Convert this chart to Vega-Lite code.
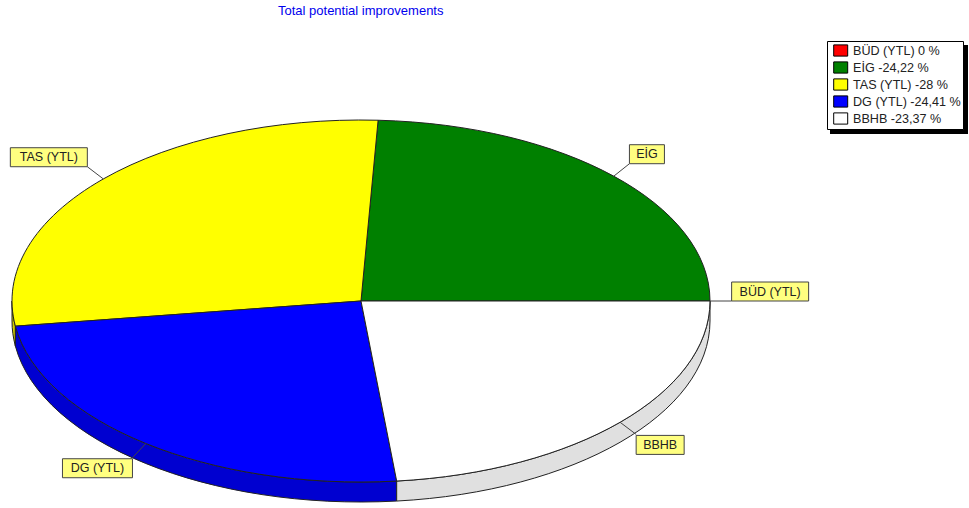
{
  "$schema": "https://vega.github.io/schema/vega-lite/v6.json",
  "width": 969,
  "height": 508,
  "padding": 0,
  "autosize": "none",
  "background": "white",
  "title": {"text": "Total potential improvements", "anchor": "start", "frame": "group", "dx": 278, "offset": -18, "font": "Liberation Sans", "fontSize": 13, "fontWeight": "normal", "color": "#0000EE"},
  "config": {"view": {"stroke": null}, "axis": {"disable": true}},
  "params": [
    {"name": "cx", "value": 361},
    {"name": "cy", "value": 301},
    {"name": "rx", "value": 349},
    {"name": "ry", "value": 181},
    {"name": "depth", "value": 20}
  ],
  "data": {"values": [
    {"slice": "BÜD (YTL)", "change": 0},
    {"slice": "EİG", "change": -24.22},
    {"slice": "TAS (YTL)", "change": -28},
    {"slice": "DG (YTL)", "change": -24.41},
    {"slice": "BBHB", "change": -23.37}
  ]},
  "transform": [
    {"calculate": "abs(datum.change)", "as": "pct"},
    {"stack": "pct", "groupby": [], "as": ["a0", "a1"]},
    {"calculate": "datum.a0*3.6*PI/180", "as": "s0"},
    {"calculate": "datum.a1*3.6*PI/180", "as": "s1"},
    {"calculate": "(datum.s0+datum.s1)/2", "as": "mid"},
    {"calculate": "round(rx*cos(datum.s0)*100)/100+','+round(-ry*sin(datum.s0)*100)/100", "as": "p0"},
    {"calculate": "round(rx*cos(datum.s1)*100)/100+','+round(-ry*sin(datum.s1)*100)/100", "as": "p1"},
    {"calculate": "'M0,0L'+datum.p0+'A'+rx+','+ry+' 0 0 0 '+datum.p1+'Z'", "as": "topPath"},
    {"calculate": "max(datum.s0,PI)", "as": "r0"},
    {"calculate": "min(datum.s1,2*PI)", "as": "r1"},
    {"calculate": "round(rx*cos(datum.r0)*100)/100", "as": "rx0"},
    {"calculate": "round(-ry*sin(datum.r0)*100)/100", "as": "ry0"},
    {"calculate": "round(rx*cos(datum.r1)*100)/100", "as": "rx1"},
    {"calculate": "round(-ry*sin(datum.r1)*100)/100", "as": "ry1"},
    {"calculate": "'M'+datum.rx0+','+datum.ry0+'A'+rx+','+ry+' 0 0 0 '+datum.rx1+','+datum.ry1+'L'+datum.rx1+','+(datum.ry1+depth)+'A'+rx+','+ry+' 0 0 1 '+datum.rx0+','+(datum.ry0+depth)+'Z'", "as": "rimPath"},
    {"calculate": "datum.slice+' '+replace(''+datum.change,'.',',')+' %'", "as": "entry"},
    {"calculate": "cx", "as": "px"},
    {"calculate": "cy", "as": "py"},
    {"calculate": "cx+rx*cos(datum.mid)", "as": "ex"},
    {"calculate": "cy-ry*sin(datum.mid)", "as": "ey"},
    {"calculate": "cx+1.062*rx*cos(datum.mid)", "as": "lx"},
    {"calculate": "cy-1.1*ry*sin(datum.mid)", "as": "ly"},
    {"calculate": "{'BÜD (YTL)':77,'EİG':35,'TAS (YTL)':77,'DG (YTL)':70,'BBHB':48}[datum.slice]", "as": "bw"},
    {"calculate": "cos(datum.mid)>=0?datum.lx:datum.lx-datum.bw", "as": "bx0"},
    {"calculate": "datum.bx0+datum.bw", "as": "bx1"},
    {"calculate": "sin(datum.mid)>=0?datum.ly-19:datum.ly+1", "as": "by0"},
    {"calculate": "datum.by0+19", "as": "by1"},
    {"calculate": "(datum.bx0+datum.bx1)/2", "as": "tx"},
    {"calculate": "(datum.by0+datum.by1)/2", "as": "ty"}
  ],
  "layer": [
    {
      "transform": [{"filter": "datum.r0<datum.r1"}],
      "mark": {"type": "point", "filled": true, "opacity": 1, "stroke": "#222222", "strokeWidth": 1, "size": 4},
      "encoding": {
        "x": {"field": "px", "type": "quantitative", "scale": {"domain": [0, 969], "nice": false, "zero": false}},
        "y": {"field": "py", "type": "quantitative", "scale": {"domain": [508, 0], "nice": false, "zero": false}},
        "shape": {"field": "rimPath", "type": "nominal", "scale": null, "legend": null},
        "fill": {"field": "slice", "type": "nominal", "legend": null, "scale": {"domain": ["TAS (YTL)", "DG (YTL)", "BBHB"], "range": ["#D0D000", "#0000D0", "#E0E0E0"]}}
      }
    },
    {
      "mark": {"type": "point", "filled": true, "opacity": 1, "stroke": "#222222", "strokeWidth": 1, "size": 4},
      "encoding": {
        "x": {"field": "px", "type": "quantitative"},
        "y": {"field": "py", "type": "quantitative"},
        "shape": {"field": "topPath", "type": "nominal", "scale": null, "legend": null},
        "color": {
          "field": "entry",
          "type": "nominal",
          "sort": null,
          "scale": {"range": ["#FF0000", "#008000", "#FFFF00", "#0000FF", "#FFFFFF"]},
          "legend": {
            "title": null,
            "orient": "none",
            "legendX": 827,
            "legendY": 41,
            "padding": 2,
            "fillColor": "white",
            "strokeColor": "black",
            "labelFont": "Liberation Sans",
            "labelFontSize": 12.6,
            "labelColor": "#222222",
            "labelLimit": 200,
            "labelOffset": 9,
            "rowPadding": 0,
            "symbolType": "M-0.4,-0.8H1.6V0.8H-0.4Z",
            "symbolSize": 196,
            "symbolStrokeColor": "black",
            "symbolStrokeWidth": 1,
            "symbolOpacity": 1
          }
        }
      }
    },
    {
      "mark": {"type": "rule", "stroke": "#444444", "strokeWidth": 1},
      "encoding": {
        "x": {"field": "ex", "type": "quantitative"},
        "y": {"field": "ey", "type": "quantitative"},
        "x2": {"field": "lx"},
        "y2": {"field": "ly"}
      }
    },
    {
      "mark": {"type": "rect", "fill": "#FFFF80", "stroke": "#444444", "strokeWidth": 1},
      "encoding": {
        "x": {"field": "bx0", "type": "quantitative"},
        "x2": {"field": "bx1"},
        "y": {"field": "by0", "type": "quantitative"},
        "y2": {"field": "by1"}
      }
    },
    {
      "mark": {"type": "text", "font": "Liberation Sans", "fontSize": 12.5, "fill": "#222222", "align": "center", "baseline": "middle"},
      "encoding": {
        "x": {"field": "tx", "type": "quantitative"},
        "y": {"field": "ty", "type": "quantitative"},
        "text": {"field": "slice", "type": "nominal"}
      }
    },
    {
      "data": {"values": [{"part": "legend shadow"}]},
      "transform": [],
      "mark": {"type": "rect", "fill": "black"},
      "encoding": {
        "x": {"datum": 830, "type": "quantitative"},
        "x2": {"datum": 968},
        "y": {"datum": 45, "type": "quantitative"},
        "y2": {"datum": 134}
      }
    }
  ]
}
